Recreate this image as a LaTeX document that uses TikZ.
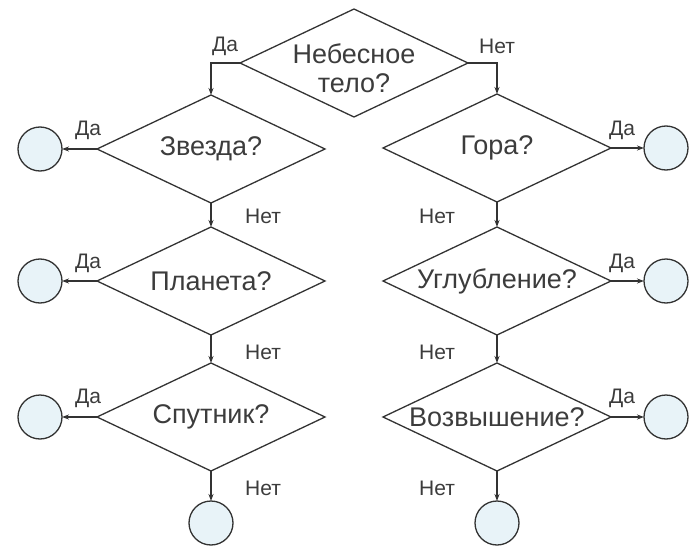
\documentclass[tikz,border=0pt]{standalone}
\usepackage{fontspec}
\setmainfont{Liberation Sans}
\usetikzlibrary{shapes.geometric,arrows.meta}
\definecolor{ink}{HTML}{333333}
\definecolor{txtc}{HTML}{3C3C3C}
\definecolor{cfill}{HTML}{E8F3F8}
\begin{document}
\begin{tikzpicture}[x=1pt,y=-1pt,
  dia/.style={diamond,draw=ink,line width=1.3pt,minimum width=228pt,minimum height=108pt,aspect=2.11,inner sep=0pt,outer sep=0pt},
  qtext/.style={font=\fontsize{27}{29}\selectfont,text=txtc,align=center,inner sep=0pt},
  circ/.style={circle,draw=ink,fill=cfill,line width=1.3pt,minimum size=44pt,inner sep=0pt,outer sep=0pt},
  lab/.style={font=\fontsize{21}{23}\selectfont,text=txtc,inner sep=0pt},
  arr/.style={draw=ink,line width=1.2pt,-{Stealth[length=7pt,width=5pt]}}]
\useasboundingbox (0,0) rectangle (689,546);
\fill[white] (0,0) rectangle (689,546);
% diamonds
\node[dia] (d0) at (354,63) {};
\node[qtext] (t0) at (354,68) {Небесное\\тело?};
\node[dia] (d1) at (211,149) {};
\node[qtext] (t1) at (d1) {Звезда?};
\node[dia] (d2) at (211,281) {};
\node[qtext] (t2) at (d2) {Планета?};
\node[dia] (d3) at (211,417) {};
\node[qtext] (t3) at (d3) {Спутник?};
\node[dia] (e1) at (497,148) {};
\node[qtext] (u1) at (e1) {Гора?};
\node[dia] (e2) at (497,281) {};
\node[qtext] (u2) at (e2) {Углубление?};
\node[dia] (e3) at (497,417) {};
\node[qtext] (u3) at (e3) {Возвышение?};
% circles
\node[circ] (c1) at (40,149) {};
\node[circ] (c2) at (40,281) {};
\node[circ] (c3) at (40,417) {};
\node[circ] (c4) at (211,523) {};
\node[circ] (k1) at (666,148) {};
\node[circ] (k2) at (666,281) {};
\node[circ] (k3) at (666,417) {};
\node[circ] (k4) at (497,523) {};
% connectors
\draw[arr] (d0.west) -| (d1.north);
\draw[arr] (d0.east) -| (e1.north);
\draw[arr] (d1.south) -- (d2.north);
\draw[arr] (d2.south) -- (d3.north);
\draw[arr] (d3.south) -- (c4.north);
\draw[arr] (e1.south) -- (e2.north);
\draw[arr] (e2.south) -- (e3.north);
\draw[arr] (e3.south) -- (k4.north);
\draw[arr] (d1.west) -- (c1.east);
\draw[arr] (d2.west) -- (c2.east);
\draw[arr] (d3.west) -- (c3.east);
\draw[arr] (e1.east) -- (k1.west);
\draw[arr] (e2.east) -- (k2.west);
\draw[arr] (e3.east) -- (k3.west);
% labels
\node[lab] (l0) at (225,46) {Да};
\node[lab] (l1) at (497,46) {Нет};
\node[lab] (l2) at (88,130) {Да};
\node[lab] (l3) at (88,263) {Да};
\node[lab] (l4) at (88,398) {Да};
\node[lab] (l5) at (263,216) {Нет};
\node[lab] (l6) at (263,352) {Нет};
\node[lab] (l7) at (263,488) {Нет};
\node[lab] (l8) at (622,130) {Да};
\node[lab] (l9) at (622,263) {Да};
\node[lab] (l10) at (622,398) {Да};
\node[lab] (l11) at (437,216) {Нет};
\node[lab] (l12) at (437,352) {Нет};
\node[lab] (l13) at (437,488) {Нет};
\end{tikzpicture}
\end{document}
